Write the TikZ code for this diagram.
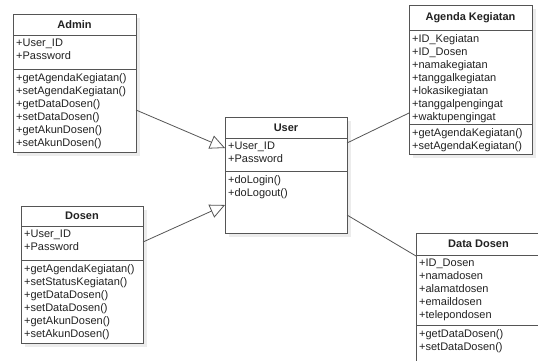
\documentclass[tikz,border=0pt]{standalone}
\usepackage{fontspec}
\setmainfont{Liberation Sans}
\usetikzlibrary{arrows.meta,calc,shadows}
\definecolor{umlline}{HTML}{555555}
\definecolor{umltext}{HTML}{222222}
\definecolor{umlshadow}{HTML}{ECECEC}
\begin{document}
\begin{tikzpicture}[x=1pt,y=-1pt,
  classbox/.style={draw=umlline, line width=0.9pt, fill=white, rectangle,
    inner sep=0pt, outer sep=0pt, anchor=north west,
    drop shadow={shadow xshift=4pt, shadow yshift=-4pt, fill=umlshadow, opacity=1}},
  classtitle/.style={font=\fontsize{11}{13}\selectfont\bfseries, text=umltext, inner sep=0pt},
  members/.style={font=\fontsize{11}{13}\selectfont, text=umltext, align=left,
    inner sep=0pt, anchor=north west},
  divider/.style={draw=umlline, line width=0.9pt},
  generalize/.style={draw=umlline, line width=0.8pt,
    -{Triangle[open, length=15pt, width=14pt]}},
  assoc/.style={draw=umlline, line width=0.8pt}]
\useasboundingbox (0,0) rectangle (538,360);
\clip (0,0) rectangle (538,360);
\fill[white] (0,0) rectangle (538,360);

% Admin
\node[classbox, minimum width=123pt, minimum height=138pt] (admin) at (13,14) {};
\draw[divider] (13,35) -- (136,35);
\draw[divider] (13,69) -- (136,69);
\node[classtitle] (admintitle) at (74.5,24.5) {Admin};
\node[members] (adminattr) at (16,39) {+User\_ID\\+Password};
\node[members] (adminops) at (16,73.5) {+getAgendaKegiatan()\\+setAgendaKegiatan()\\+getDataDosen()\\+setDataDosen()\\+getAkunDosen()\\+setAkunDosen()};

% Dosen
\node[classbox, minimum width=122pt, minimum height=137pt] (dosen) at (21,206) {};
\draw[divider] (21,226) -- (143,226);
\draw[divider] (21,260) -- (143,260);
\node[classtitle] (dosentitle) at (82,216) {Dosen};
\node[members] (dosenattr) at (24,230) {+User\_ID\\+Password};
\node[members] (dosenops) at (24,264.5) {+getAgendaKegiatan()\\+setStatusKegiatan()\\+getDataDosen()\\+setDataDosen()\\+getAkunDosen()\\+setAkunDosen()};

% User
\node[classbox, minimum width=122pt, minimum height=116pt] (user) at (225,117) {};
\draw[divider] (225,138) -- (347,138);
\draw[divider] (225,171) -- (347,171);
\node[classtitle] (usertitle) at (286,127.5) {User};
\node[members] (userattr) at (228,142) {+User\_ID\\+Password};
\node[members] (userops) at (228,175.5) {+doLogin()\\+doLogout()};

% Agenda Kegiatan
\node[classbox, minimum width=123pt, minimum height=149pt] (agenda) at (409,5) {};
\draw[divider] (409,30) -- (532,30);
\draw[divider] (409,124) -- (532,124);
\node[classtitle] (agendatitle) at (470.5,17.5) {Agenda Kegiatan};
\node[members] (agendaattr) at (412,34) {+ID\_Kegiatan\\+ID\_Dosen\\+namakegiatan\\+tanggalkegiatan\\+lokasikegiatan\\+tanggalpengingat\\+waktupengingat};
\node[members] (agendaops) at (412,128.5) {+getAgendaKegiatan()\\+setAgendaKegiatan()};

% Data Dosen
\node[classbox, minimum width=125pt, minimum height=142pt] (datadosen) at (416,233) {};
\draw[divider] (416,255) -- (541,255);
\draw[divider] (416,325) -- (541,325);
\node[classtitle] (datadosentitle) at (478.5,244) {Data Dosen};
\node[members] (datadosenattr) at (419,259) {+ID\_Dosen\\+namadosen\\+alamatdosen\\+emaildosen\\+telepondosen};
\node[members] (datadosenops) at (419,329.5) {+getDataDosen()\\+setDataDosen()};

% Generalizations towards User
\draw[generalize] ($(admin.north east)+(0,96)$) -- ($(user.north west)+(0,31)$);
\draw[generalize] ($(dosen.north east)+(0,36)$) -- ($(user.north west)+(0,88)$);

% Associations from User
\draw[assoc] ($(user.north east)+(0,26)$) -- ($(agenda.north west)+(0,108)$);
\draw[assoc] ($(user.north east)+(0,98)$) -- ($(datadosen.north west)+(0,23)$);
\end{tikzpicture}
\end{document}
